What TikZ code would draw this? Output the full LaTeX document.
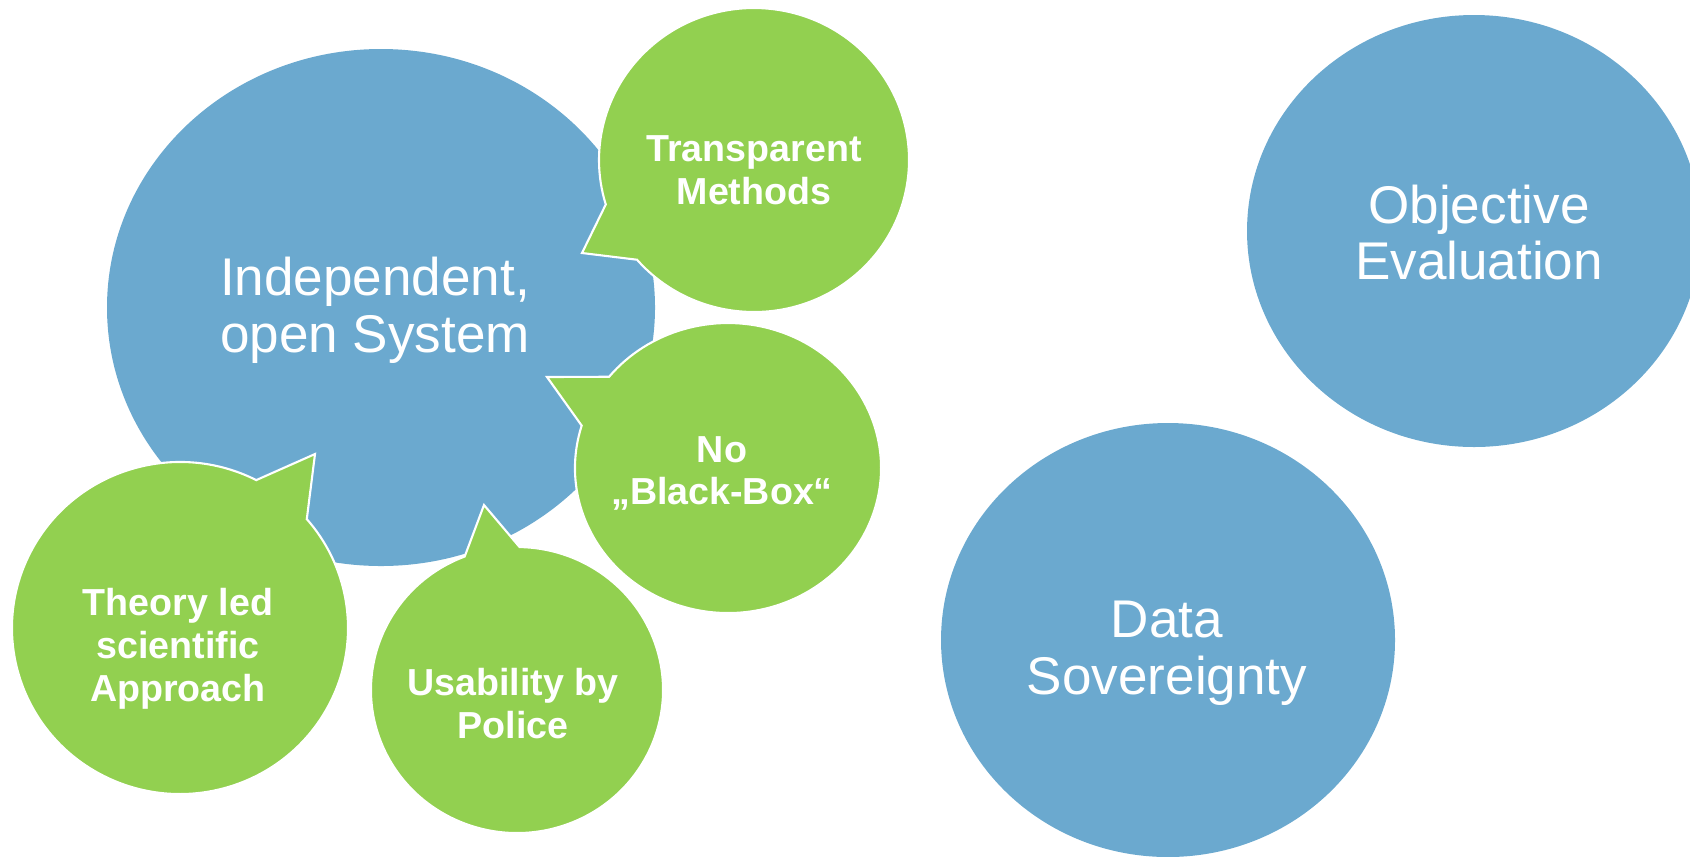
\documentclass[tikz,border=0pt]{standalone}
\usepackage{fontspec}
\setmainfont{Liberation Sans}
\usepackage{tikz}
\usepackage{xcolor}
\usetikzlibrary{calc}
\definecolor{topicblue}{RGB}{107,169,207}
\definecolor{calloutgreen}{RGB}{146,208,80}

\begin{document}
\begin{tikzpicture}[
  topic/.style={fill=topicblue},
  callout/.style={fill=calloutgreen, draw=white, line width=0.6pt, line join=miter},
  topictext/.style={text=white, align=center, inner sep=0pt, font=\fontsize{15.1}{16.2}\selectfont},
  callouttext/.style={text=white, align=center, inner sep=0pt, font=\bfseries\fontsize{10.7}{12.2}\selectfont}
]
\useasboundingbox (0,0) rectangle (16.9,8.56);

% blue topics
\fill[topic] (3.81,5.485) ellipse [x radius=2.74, y radius=2.585];
\fill[topic] (14.74,6.25) ellipse [x radius=2.27, y radius=2.16];
\fill[topic] (11.68,2.16) ellipse [x radius=2.27, y radius=2.17];

% green callouts (tail tip, then round the ellipse)
\coordinate (ctrans) at (7.54,6.96);
\coordinate (cblack) at (7.28,3.88);
\coordinate (ctheory) at (1.80,2.28);
\coordinate (cusab) at (5.17,1.66);

\filldraw[callout] (5.82,6.03) -- ($(ctrans)+(221:1.55cm and 1.52cm)$)
  arc [start angle=221, end angle=557, x radius=1.55, y radius=1.52] -- cycle;
\filldraw[callout] (5.47,4.79) -- ($(cblack)+(163:1.53cm and 1.45cm)$)
  arc [start angle=163, end angle=501, x radius=1.53, y radius=1.45] -- cycle;
\filldraw[callout] (3.15,4.02) -- ($(ctheory)+(63:1.68cm and 1.66cm)$)
  arc [start angle=63, end angle=401, x radius=1.68, y radius=1.66] -- cycle;
\filldraw[callout] (4.84,3.51) -- ($(cusab)+(111:1.46cm and 1.43cm)$)
  arc [start angle=111, end angle=449, x radius=1.46, y radius=1.43] -- cycle;

% labels
\node[topictext] (indep) at (3.75,5.46) {Independent,\\open System};
\node[topictext] (objective) at (14.79,6.235) {Objective\\Evaluation};
\node[topictext] (data) at (11.67,2.03) {Data\\Sovereignty};

\node[callouttext] (trans) at (7.54,6.86) {Transparent\\Methods};
\node[callouttext] (blackbox) at (7.22,3.825) {No\\„Black-Box“};
\node[callouttext] (theory) at (1.78,2.075) {Theory led\\scientific\\Approach};
\node[callouttext] (usab) at (5.13,1.525) {Usability by\\Police};
\end{tikzpicture}
\end{document}
